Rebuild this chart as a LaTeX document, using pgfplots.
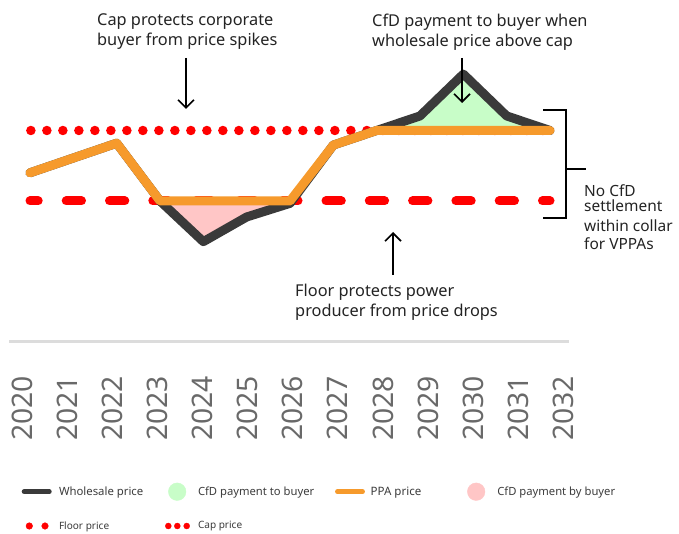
\documentclass[border=0pt]{standalone}
\usepackage{fontspec}
\setmainfont{Noto Sans}
\usepackage{pgfplots}
\pgfplotsset{compat=1.18}
\usetikzlibrary{arrows.meta}
\definecolor{wholesale}{RGB}{58,58,58}
\definecolor{ppa}{RGB}{246,154,44}
\definecolor{greenfill}{RGB}{200,253,200}
\definecolor{pinkfill}{RGB}{255,198,198}
\definecolor{capred}{RGB}{255,0,0}
\definecolor{axisgray}{RGB}{220,220,220}
\definecolor{tickgray}{RGB}{105,105,105}
\definecolor{txt}{RGB}{35,35,35}
\definecolor{legtxt}{RGB}{60,60,60}
\begin{document}
\begin{tikzpicture}
% axis carrying the year labels
\begin{axis}[at={(9.3bp,192bp)}, anchor=south west, scale only axis,
  width=560bp, height=50bp,
  xmin=2019.702, xmax=2032.14, ymin=0, ymax=1,
  axis x line=bottom, axis y line=none, ytick=\empty,
  axis line style={axisgray, line width=3bp, -},
  xtick={2020,2021,2022,2023,2024,2025,2026,2027,2028,2029,2030,2031,2032},
  xticklabels={2020,2021,2022,2023,2024,2025,2026,2027,2028,2029,2030,2031,2032},
  major tick length=0pt,
  xticklabel style={yshift=-34bp, rotate=90, anchor=east, inner sep=0pt,
    font=\fontsize{28.4}{30}\selectfont, text=tickgray}]
\end{axis}
% main data axis
\begin{axis}[at={(30bp,239bp)}, anchor=south west, scale only axis,
  width=520bp, height=235bp,
  xmin=2020, xmax=2032, ymin=0, ymax=100,
  hide axis, clip=false,
  legend columns=4,
  legend style={at={(-0.01923,-0.7987)}, anchor=north west, draw=none, fill=none,
    inner sep=0pt, outer sep=0pt, column sep=0pt, row sep=16.3bp,
    nodes={inner sep=0pt, outer sep=0pt, text=legtxt}},
  legend cell align=left]
% cap (dotted)
\addplot[capred, line width=9.5bp, line cap=round, dash pattern=on 0pt off 16bp, forget plot]
  coordinates {(2020.02,70) (2032,70)};
% floor (dashed)
\addplot[capred, line width=9bp, line cap=round, dash pattern=on 15.3bp off 28bp, dash phase=7.1bp, forget plot]
  coordinates {(2020,40) (2032,40)};
% CfD payment by buyer
\addplot[fill=pinkfill, draw=none, forget plot]
  coordinates {(2023,40) (2024,22.7) (2025,33.2) (2026,39)} -- cycle;
% CfD payment to buyer
\addplot[fill=greenfill, draw=none, forget plot]
  coordinates {(2028,70) (2029,76.2) (2030,94) (2031,76.2) (2032,70)} -- cycle;
% wholesale price
\addplot[wholesale, line width=9bp, line join=round, line cap=round, forget plot]
  coordinates {(2020,52) (2021,58.3) (2022,64.6) (2023,40) (2024,22.7) (2025,33.2) (2026,39)
               (2027,63.8) (2028,70) (2029,76.2) (2030,94) (2031,76.2) (2032,70)};
% PPA price
\addplot[ppa, line width=9bp, line join=round, line cap=round, forget plot]
  coordinates {(2020,52) (2021,58.3) (2022,64.6) (2023,40) (2024,40) (2025,40) (2026,40)
               (2027,63.8) (2028,70) (2029,70) (2030,70) (2031,70) (2032,70)};
% legend
\addlegendimage{legend image code/.code={
  \path[draw=none,fill=none] (0bp,-9bp) rectangle (39bp,9bp);
  \draw[wholesale, line width=5bp, line cap=round] (4.2bp,0bp) -- (29.2bp,0bp);}}
\addlegendentry{\makebox[105bp][l]{\fontsize{11.4}{13}\selectfont Wholesale price}}
\addlegendimage{legend image code/.code={
  \path[draw=none,fill=none] (0bp,-9bp) rectangle (34bp,9bp);
  \fill[greenfill] (13.2bp,0bp) circle (8.8bp);}}
\addlegendentry{\makebox[135bp][l]{\fontsize{11.3}{13}\selectfont CfD payment to buyer}}
\addlegendimage{legend image code/.code={
  \path[draw=none,fill=none] (0bp,-9bp) rectangle (37.7bp,9bp);
  \draw[ppa, line width=4.7bp, line cap=round] (4.4bp,0bp) -- (29.6bp,0bp);}}
\addlegendentry{\makebox[95.3bp][l]{\fontsize{11.6}{13}\selectfont PPA price}}
\addlegendimage{legend image code/.code={
  \path[draw=none,fill=none] (0bp,-9bp) rectangle (31.3bp,9bp);
  \fill[pinkfill] (10.2bp,0bp) circle (8.8bp);}}
\addlegendentry{\makebox[125bp][l]{\fontsize{11.3}{13}\selectfont CfD payment by buyer}}
\addlegendimage{legend image code/.code={
  \path[draw=none,fill=none] (0bp,-9bp) rectangle (39bp,9bp);
  \fill[capred] (9.3bp,0bp) circle (3.3bp);
  \fill[capred] (25bp,0bp) circle (3.3bp);}}
\addlegendentry{\makebox[105bp][l]{\fontsize{10.1}{12}\selectfont Floor price}}
\addlegendimage{legend image code/.code={
  \path[draw=none,fill=none] (0bp,-9bp) rectangle (34bp,9bp);
  \fill[capred] (4.3bp,0bp) circle (3bp);
  \fill[capred] (13.3bp,0bp) circle (3bp);
  \fill[capred] (22.7bp,0bp) circle (3bp);}}
\addlegendentry{\makebox[135bp][l]{\fontsize{10.1}{12}\selectfont Cap price}}
\end{axis}
% annotations
\begin{scope}[every node/.style={anchor=base west, inner sep=0pt, text=txt, font=\fontsize{16.4}{20}\selectfont}]
\node at (97bp,508bp) {Cap protects corporate};
\node at (97bp,488bp) {buyer from price spikes};
\node at (372bp,507bp) {CfD payment to buyer when};
\node at (372bp,487bp) {wholesale price above cap};
\node at (295bp,237bp) {Floor protects power};
\node at (295bp,217bp) {producer from price drops};
\end{scope}
\begin{scope}[every node/.style={anchor=base west, inner sep=0pt, text=txt, font=\fontsize{15.5}{18}\selectfont}]
\node at (584bp,337bp) {No CfD};
\node at (584bp,322bp) {settlement};
\node at (584bp,302bp) {within collar};
\node at (584bp,284bp) {for VPPAs};
\end{scope}
\draw[-{Straight Barb[length=8bp,width=16bp]}, line width=1.6bp] (186bp,476bp) -- (186bp,425bp);
\draw[-{Straight Barb[length=8bp,width=16bp]}, line width=1.6bp] (462bp,476bp) -- (462bp,431bp);
\draw[-{Straight Barb[length=8bp,width=16bp]}, line width=1.6bp] (393bp,259bp) -- (393bp,302bp);
\draw[line width=2bp] (543bp,424bp) -- (566bp,424bp) -- (566bp,316bp) -- (543bp,316bp);
\draw[line width=2bp] (566bp,365bp) -- (586bp,365bp);
\pgfresetboundingbox
\useasboundingbox (0bp,0bp) rectangle (679bp,534bp);
\end{tikzpicture}
\end{document}
